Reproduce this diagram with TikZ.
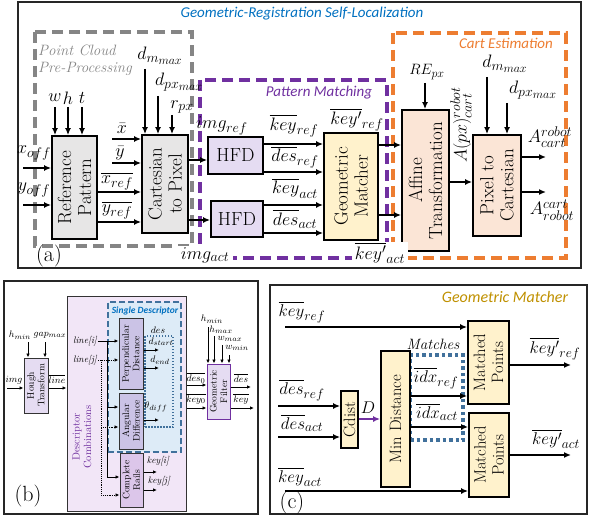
\documentclass[tikz,border=0pt]{standalone}
\usepackage{fix-cm}
\usepackage{amsmath}
\usepackage{fontspec}
\newfontfamily\calib{Carlito}
\usetikzlibrary{arrows.meta}
\definecolor{titleblue}{HTML}{0070C0}
\definecolor{ppgray}{HTML}{858585}
\definecolor{pmpurple}{HTML}{7030A0}
\definecolor{ceorange}{HTML}{ED7D31}
\definecolor{gmgold}{HTML}{BF9000}
\definecolor{sdblue}{HTML}{41719C}
\definecolor{refgray}{HTML}{E7E6E6}
\definecolor{hfdfill}{HTML}{E5DCF2}
\definecolor{gmfill}{HTML}{FFF2CC}
\definecolor{affill}{HTML}{FBE5D6}
\definecolor{dcfill}{HTML}{F2E6F7}
\definecolor{sdfill}{HTML}{DDEBF7}
\definecolor{pdfill}{HTML}{CBC3E6}
\definecolor{crfill}{HTML}{DCC6EA}
\DeclareMathSizes{18}{18}{14}{12}
\DeclareMathSizes{17}{17}{13.5}{11.5}
\DeclareMathSizes{15}{15}{12}{10}
\DeclareMathSizes{9.5}{9.5}{7.5}{6.5}
\newcommand{\fntA}{\fontsize{19}{20}\selectfont}
\newcommand{\fntL}{\fontsize{18}{20}\selectfont}
\newcommand{\fntB}{\fontsize{9.5}{10.5}\selectfont}
\newcommand{\fntC}{\fontsize{16.5}{18}\selectfont}
\newcommand{\fntT}{\calib\itshape\fontsize{15}{17}\selectfont}
\tikzset{
blk/.style={draw=black,line width=1.8pt,inner sep=0pt},
sblk/.style={draw=black!80,line width=1pt,inner sep=0pt},
rotxt/.style={rotate=90,align=center,inner sep=0pt},
arr/.style={-{Latex[length=7pt,width=6pt]},line width=1.6pt},
sarr/.style={-{Latex[length=4pt,width=3.5pt]},line width=0.9pt},
darr/.style={sarr,densely dotted},
grp/.style={line width=3.2pt,dash pattern=on 11pt off 6pt},
panel/.style={draw=black!85,line width=1.1pt},
sdbox/.style={draw=sdblue,fill=sdfill,line width=1.8pt,dash pattern=on 6pt off 3pt},
dotbox/.style={draw=sdblue,line width=1.5pt,dash pattern=on 1.5pt off 1.5pt},
mtbox/.style={draw=sdblue,line width=3.5pt,dash pattern=on 3.5pt off 3pt},
lab/.style={font=\fntL},
slab/.style={font=\fntB},
clab/.style={font=\fontsize{17}{19}\selectfont},
capt/.style={font=\fontsize{22}{24}\selectfont}
}
\begin{document}
\begin{tikzpicture}[x=1pt,y=-1pt,every node/.style={inner sep=0pt}]
\useasboundingbox (0,0) rectangle (592,516);

% (a)
\draw[panel] (18,2) rectangle (581,268);
\node[font=\fntT,text=titleblue] (ttla) at (302,14) {Geometric-Registration Self-Localization};
\draw[grp,draw=ppgray] (35,32) rectangle (192,246);
\draw[grp,draw=pmpurple] (200,80) rectangle (387,258);
\draw[grp,draw=ceorange] (393,33) rectangle (566,258);
\node[font=\itshape\fontsize{15}{17}\selectfont,text=ppgray,anchor=west] (ppl1) at (38,50) {Point Cloud};
\node[font=\itshape\fontsize{15}{17}\selectfont,text=ppgray,anchor=west] (ppl2) at (38,69) {Pre-Processing};
\node[font=\fntT,text=pmpurple] (pml) at (319,93) {Pattern Matching};
\node[font=\fntT,text=ceorange] (cel) at (506,43) {Cart Estimation};

\node[blk,fill=refgray,minimum width=45,minimum height=103,label={[rotxt,font=\fntA]center:Reference\\Pattern}] (refpat) at (74.5,187.5) {};
\node[blk,fill=refgray,minimum width=46,minimum height=98,label={[rotxt,font=\fntA]center:Cartesian\\to Pixel}] (c2p) at (165,184) {};
\node[blk,fill=hfdfill,minimum width=55,minimum height=37,font=\fntA] (hfd1) at (235.5,155.5) {HFD};
\node[blk,fill=hfdfill,minimum width=52,minimum height=36,font=\fntA] (hfd2) at (237,219) {HFD};
\node[blk,fill=gmfill,minimum width=54,minimum height=107,label={[rotxt,font=\fntA]center:Geometric\\Matcher}] (gm) at (351,186.5) {};
\node[blk,fill=affill,minimum width=47,minimum height=141,label={[rotxt,font=\fntA]center:Affine\\Transformation}] (aff) at (425.5,180.5) {};
\node[blk,fill=affill,minimum width=48,minimum height=101,label={[rotxt,font=\fntA]center:Pixel to\\Cartesian}] (p2c) at (497,185.5) {};

\foreach \n/\xx in {w/55,h/68,t/82}{
  \node[lab] (in\n) at (\xx,98) {$\n$};
  \draw[arr] (in\n |- 0,107) -- (in\n |- refpat.north);
}
\node[lab] (xoff) at (34,153) {$x_{off}$};
\coordinate (xoffs) at (23,168);
\draw[arr] (xoffs) -- (xoffs -| refpat.west);
\node[lab] (yoff) at (34,190) {$y_{off}$};
\coordinate (yoffs) at (23,205);
\draw[arr] (yoffs) -- (yoffs -| refpat.west);

\node[lab] (xbar) at (122,128) {$\bar{x}$};
\coordinate (xbars) at (112,139);
\draw[arr] (xbars) -- (xbars -| c2p.west);
\node[lab] (ybar) at (120,153) {$\bar{y}$};
\coordinate (ybars) at (112,163);
\draw[arr] (ybars) -- (ybars -| c2p.west);
\node[lab] (xref) at (117,181) {$\overline{x_{ref}}$};
\draw[arr] (refpat.east |- 0,192) -- (c2p.west |- 0,192);
\node[lab] (yref) at (117,210) {$\overline{y_{ref}}$};
\draw[arr] (refpat.east |- 0,222) -- (c2p.west |- 0,222);

\node[lab] (dm1) at (160,56) {$d_{m_{max}}$};
\coordinate (dm1s) at (145,69);
\draw[arr] (dm1s) -- (dm1s |- c2p.north);
\node[lab] (dp1) at (179,82) {$d_{px_{max}}$};
\coordinate (dp1s) at (158,96);
\draw[arr] (dp1s) -- (dp1s |- c2p.north);
\node[lab] (rpx) at (182,107) {$r_{px}$};
\coordinate (rpxs) at (172,115);
\draw[arr] (rpxs) -- (rpxs |- c2p.north);

\draw[arr] (c2p.east |- 0,160) -- (hfd1.west |- 0,160);
\draw[arr] (c2p.east |- 0,220) -- (hfd2.west |- 0,220);
\node[lab] (imgr) at (222,126) {$img_{ref}$};
\node[lab,fill=white,inner xsep=4pt,inner ysep=1pt] (imga) at (205,255) {$img_{act}$};

\draw[arr] (hfd1.east |- 0,144) -- (gm.west |- 0,144);
\draw[arr] (hfd1.east |- 0,172) -- (gm.west |- 0,172);
\draw[arr] (hfd2.east |- 0,205) -- (gm.west |- 0,205);
\draw[arr] (hfd2.east |- 0,233) -- (gm.west |- 0,233);
\node[lab] (keyr) at (294,126) {$\overline{key}_{ref}$};
\node[lab] (desr) at (295,157) {$\overline{des}_{ref}$};
\node[lab] (keya) at (295,188) {$\overline{key}_{act}$};
\node[lab] (desa) at (295,219) {$\overline{des}_{act}$};

\draw[arr] (gm.east |- 0,145) -- (aff.west |- 0,145);
\draw[arr] (gm.east |- 0,215) -- (aff.west |- 0,215);
\node[lab] (kpr) at (357,120) {$\overline{key'}_{ref}$};
\node[lab,fill=white,inner xsep=3pt,inner ysep=1pt] (kpa) at (380,253) {$\overline{key'}_{act}$};

\node[font=\fontsize{15}{17}\selectfont] (repx) at (427,72) {$RE_{px}$};
\coordinate (repxs) at (425,83);
\draw[arr] (repxs) -- (repxs |- aff.north);
\draw[arr] (aff.east |- 0,182) -- (p2c.west |- 0,182);
\node[lab,rotate=90] (apx) at (461,125) {$A(px)^{robot}_{cart}$};

\node[lab] (dm2) at (505,64) {$d_{m_{max}}$};
\coordinate (dm2s) at (487,77);
\draw[arr] (dm2s) -- (dm2s |- p2c.north);
\node[lab] (dp2) at (533,90) {$d_{px_{max}}$};
\coordinate (dp2s) at (507,103);
\draw[arr] (dp2s) -- (dp2s |- p2c.north);
\coordinate (ao1) at (546,157);
\draw[arr] (p2c.east |- ao1) -- (ao1);
\node[lab] (arc) at (550,137) {$A^{robot}_{cart}$};
\coordinate (ao2) at (546,192);
\draw[arr] (p2c.east |- ao2) -- (ao2);
\node[lab] (acr) at (552,210) {$A^{cart}_{robot}$};
\node[capt] (capa) at (49,256) {(a)};

% (b)
\draw[panel] (4,281) rectangle (258,514);
\node[sblk,fill=hfdfill,minimum width=24,minimum height=55,label={[rotxt,font=\fntB]center:Hough\\Transform}] (hough) at (36,385.5) {};
\node[slab] (hmin1) at (20,335) {$h_{min}$};
\node[slab] (gap) at (50,335) {$gap_{max}$};
\coordinate (hmins) at (28,342);
\draw[sarr] (hmins) -- (hmins |- hough.north);
\coordinate (gaps) at (45,342);
\draw[sarr] (gaps) -- (gaps |- hough.north);
\node[slab] (img) at (14,380) {$img$};
\coordinate (imgs) at (7,388);
\draw[sarr] (imgs) -- (imgs -| hough.west);
\node[slab] (lineb) at (57,379) {$\overline{line}$};

\node[sblk,fill=dcfill,minimum width=119,minimum height=215] (dc) at (126.5,403.5) {};
\draw[sarr] (hough.east |- 0,388) -- (dc.west |- 0,388);
\node[sdbox,minimum width=73,minimum height=150] (sd) at (144.5,377) {};
\node[font=\calib\bfseries\itshape\fontsize{9.5}{11}\selectfont,text=titleblue] (sdl) at (145,311) {Single Descriptor};
\node[sblk,fill=pdfill,minimum width=24,minimum height=71,label={[rotxt,font=\fntB]center:Perpendicular\\Distance}] (perp) at (131,354) {};
\node[sblk,fill=pdfill,minimum width=24,minimum height=56,label={[rotxt,font=\fntB]center:Angular\\Difference}] (ang) at (131,421) {};
\node[sblk,fill=crfill,minimum width=23,minimum height=54,label={[rotxt,font=\fntB]center:Complete\\Rails}] (rails) at (131.5,480) {};
\node[rotxt,font=\fontsize{10.5}{11.5}\selectfont,text=pmpurple] (dcl) at (82,437) {Descriptor\\Combinations};

\node[slab,font=\fntB\itshape] (li) at (85,341) {line[i]};
\coordinate (lis) at (98,341);
\draw[sarr] (lis) -- (lis -| perp.west);
\coordinate (vi) at (107,341);
\draw[sarr] (vi) |- (rails.west |- 0,477);
\draw[sarr] (vi |- 0,407) -- (ang.west |- 0,407);
\node[slab,font=\fntB\itshape] (lj) at (85,360) {line[j]};
\coordinate (ljs) at (98,360);
\draw[darr] (ljs) -- (ljs -| perp.west);
\coordinate (vj) at (101,360);
\draw[darr] (vj) |- (rails.west |- 0,495);
\draw[darr] (vj |- 0,427) -- (ang.west |- 0,427);

\node[dotbox,minimum width=28,minimum height=91] (desb) at (159,381.5) {};
\node[slab] (desl) at (158,330) {$des$};
\node[slab] (dst) at (161,342) {$d_{start}$};
\coordinate (dso) at (159,350);
\draw[sarr] (perp.east |- dso) -- (dso);
\node[slab] (den) at (160,360) {$d_{end}$};
\coordinate (deo) at (159,368);
\draw[sarr] (perp.east |- deo) -- (deo);
\node[slab] (thd) at (156,407) {$\theta_{diff}$};
\coordinate (tho) at (159,420);
\draw[sarr] (ang.east |- tho) -- (tho);

\node[slab,font=\fntB\itshape] (ki) at (158,461) {key[i]};
\coordinate (kio) at (157,472);
\draw[sarr] (rails.east |- kio) -- (kio);
\node[slab,font=\fntB\itshape] (kj) at (159,481) {key[j]};
\coordinate (kjo) at (157,490);
\draw[sarr] (rails.east |- kjo) -- (kjo);

\node[sblk,draw=pmpurple,fill=hfdfill,minimum width=23,minimum height=55,label={[rotxt,font=\fntB]center:Geometric\\Filter}] (gf) at (218.5,391.5) {};
\draw[sarr] (dc.east |- 0,385) -- (gf.west |- 0,385);
\draw[sarr] (dc.east |- 0,408) -- (gf.west |- 0,408);
\node[slab] (des0) at (196,378) {$\overline{des_0}$};
\node[slab] (key0) at (196,399) {$\overline{key_0}$};
\foreach \nm/\lx/\ly/\ax/\ay in {h_{min}/212/319/208/327, h_{max}/221/330/214/336, w_{max}/230/339/222/345, w_{min}/237/348/229/355}{
  \coordinate (gfin) at (\ax,\ay);
  \node[slab] (gfl) at (\lx,\ly) {$\nm$};
  \draw[sarr] (gfin) -- (gfin |- gf.north);
}
\coordinate (gdo) at (251,387);
\draw[sarr] (gf.east |- gdo) -- (gdo);
\node[slab] (desbar) at (241,378) {$\overline{des}$};
\coordinate (gko) at (254,408);
\draw[sarr] (gf.east |- gko) -- (gko);
\node[slab] (keybar) at (241,399) {$\overline{key}$};
\node[capt] (capb) at (28,496) {(b)};

% (c)
\draw[panel] (270,285) rectangle (587,514);
\node[font=\calib\itshape\fontsize{16}{18}\selectfont,text=gmgold] (ttlc) at (505,297) {Geometric Matcher};
\node[mtbox,minimum width=53,minimum height=85] (mt) at (436.5,397.5) {};
\node[font=\itshape\fontsize{15}{17}\selectfont] (mtl) at (433,344) {Matches};
\node[blk,fill=gmfill,minimum width=41,minimum height=83,label={[rotxt,font=\fntC]center:Matched\\Points}] (mp1) at (488.5,362.5) {};
\node[blk,fill=gmfill,minimum width=40,minimum height=84,label={[rotxt,font=\fntC]center:Matched\\Points}] (mp2) at (489,455) {};
\node[blk,fill=gmfill,minimum width=29,minimum height=136,label={[rotxt,font=\fntC]center:Min Distance}] (md) at (395.5,419) {};
\node[blk,fill=gmfill,minimum width=17,minimum height=57,label={[rotxt,font=\fntC]center:Cdist}] (cd) at (349.5,419.5) {};

\node[clab] (ckr) at (302,312) {$\overline{key}_{ref}$};
\coordinate (krs) at (285,327);
\draw[arr] (krs) -- (krs -| mp1.west);
\node[clab] (cdr) at (302,390) {$\overline{des}_{ref}$};
\coordinate (drs) at (278,406);
\draw[arr] (drs) -- (drs -| cd.west);
\node[clab] (cda) at (302,423) {$\overline{des}_{act}$};
\coordinate (das) at (278,437);
\draw[arr] (das) -- (das -| cd.west);
\node[clab] (cka) at (300,477) {$\overline{key}_{act}$};
\coordinate (kas) at (285,491);
\draw[arr] (kas) -- (kas -| mp2.west);
\draw[arr,draw=pmpurple] (cd.east |- 0,419) -- (md.west |- 0,419);
\node[clab] (dl) at (368,408) {$D$};
\draw[arr] (md.east |- 0,396) -- (mp1.west |- 0,396);
\node[clab] (idr) at (436,378) {$\overline{idx}_{ref}$};
\draw[arr] (md.east |- 0,427) -- (mp2.west |- 0,427);
\node[clab] (ida) at (437,412) {$\overline{idx}_{act}$};
\coordinate (kpro) at (571,365);
\draw[arr] (mp1.east |- kpro) -- (kpro);
\node[clab] (ckpr) at (555,349) {$\overline{key'}_{ref}$};
\coordinate (kpao) at (571,455);
\draw[arr] (mp2.east |- kpao) -- (kpao);
\node[clab] (ckpa) at (556,439) {$\overline{key'}_{act}$};
\node[capt] (capc) at (292,503) {(c)};
\end{tikzpicture}
\end{document}
